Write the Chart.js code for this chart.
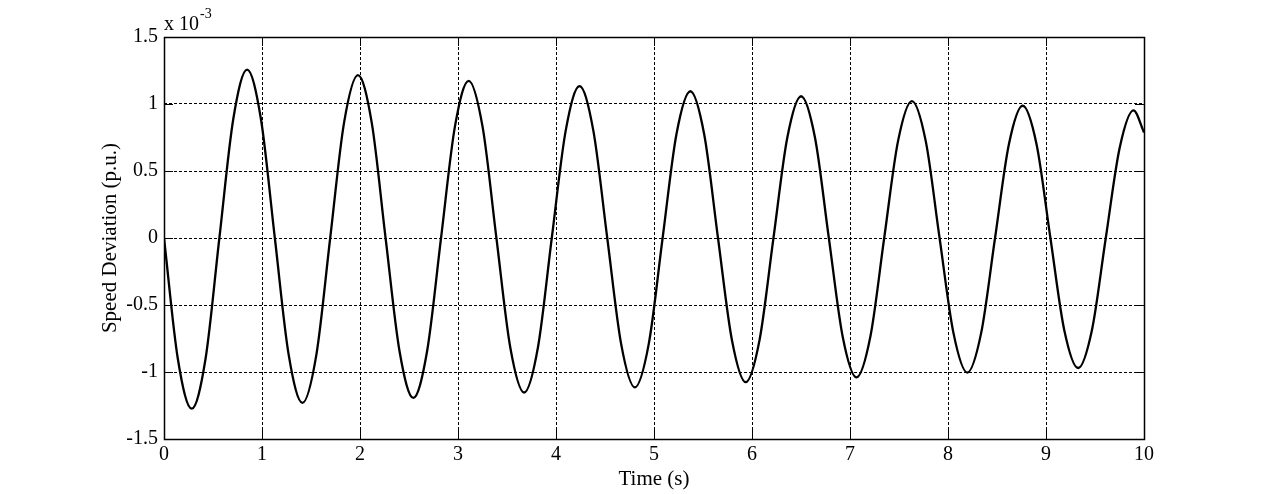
<!DOCTYPE html>
<html>
<head>
<meta charset="utf-8">
<script src="https://cdn.jsdelivr.net/npm/chart.js@4/dist/chart.umd.min.js"></script>
<style>
  html, body { margin: 0; padding: 0; background: #ffffff; }
  #wrap { width: 1264px; height: 494px; }
</style>
</head>
<body>
<div id="wrap"><canvas id="c" width="1264" height="494"></canvas></div>
<script>
// Time samples (s)
const timeValues = [0, 0.141, 0.283, 0.424, 0.565, 0.707, 0.848, 0.989, 1.131, 1.272,
  1.413, 1.555, 1.696, 1.837, 1.979, 2.120, 2.261, 2.403, 2.544, 2.685,
  2.827, 2.968, 3.109, 3.251, 3.392, 3.533, 3.675, 3.816, 3.957, 4.099,
  4.240, 4.381, 4.523, 4.664, 4.805, 4.947, 5.088, 5.229, 5.371, 5.512,
  5.653, 5.795, 5.936, 6.077, 6.219, 6.360, 6.501, 6.643, 6.784, 6.925,
  7.066, 7.208, 7.349, 7.490, 7.632, 7.773, 7.914, 8.056, 8.197, 8.338,
  8.480, 8.621, 8.762, 8.904, 9.045, 9.186, 9.328, 9.469, 9.610, 9.752,
  9.893, 10.0];
// Speed deviation (x 10^-3 p.u.)
const speedDeviation = [0, -0.901, -1.274, -0.901, 0, 0.888, 1.256, 0.888, 0, -0.870,
  -1.230, -0.870, 0, 0.859, 1.215, 0.859, 0, -0.843, -1.193, -0.843,
  0, 0.829, 1.173, 0.829, 0, -0.815, -1.153, -0.815, 0, 0.801,
  1.133, 0.801, 0, -0.788, -1.114, -0.788, 0, 0.774, 1.095, 0.774,
  0, -0.761, -1.076, -0.761, 0, 0.748, 1.058, 0.748, 0, -0.735,
  -1.040, -0.735, 0, 0.723, 1.022, 0.723, 0, -0.710, -1.004, -0.710,
  0, 0.698, 0.987, 0.698, 0, -0.686, -0.970, -0.686, 0, 0.673,
  0.952, 0.788];
const xTickLabels = ['0','1','2','3','4','5','6','7','8','9','10'];
const yTickLabels = ['-1.5','-1','-0.5','0','0.5','1','1.5'];
const yTicks = [-1.5, -1, -0.5, 0, 0.5, 1, 1.5];
const xTitle = 'Time (s)';
const yTitle = 'Speed Deviation (p.u.)';
const exponentBase = 'x 10';
const exponentPower = '-3';

const FONT = 'Liberation Serif';

const points = timeValues.map((t, i) => ({ x: t, y: speedDeviation[i] }));

const frameAndTicks = {
  id: 'frameAndTicks',
  afterDraw(chart) {
    const ctx = chart.ctx;
    const a = chart.chartArea;
    const xs = chart.scales.x, ys = chart.scales.y;
    ctx.save();
    ctx.strokeStyle = '#000';
    ctx.lineWidth = 1;
    ctx.setLineDash([]);
    const tl = 9;
    ctx.beginPath();
    xs.ticks.forEach(t => {
      const px = Math.round(xs.getPixelForValue(t.value)) + 0.5;
      ctx.moveTo(px, a.bottom); ctx.lineTo(px, a.bottom - tl);
      ctx.moveTo(px, a.top); ctx.lineTo(px, a.top + tl);
    });
    ys.ticks.forEach(t => {
      const py = Math.round(ys.getPixelForValue(t.value)) + 0.5;
      ctx.moveTo(a.left, py); ctx.lineTo(a.left + tl, py);
      ctx.moveTo(a.right, py); ctx.lineTo(a.right - tl, py);
    });
    ctx.stroke();
    ctx.lineWidth = 1.5;
    ctx.strokeRect(Math.round(a.left) + 0.5, Math.round(a.top) + 0.5,
      Math.round(a.right - a.left), Math.round(a.bottom - a.top));
    // exponent label
    ctx.fillStyle = '#000';
    ctx.textBaseline = 'alphabetic';
    ctx.textAlign = 'left';
    ctx.font = '20px "' + FONT + '"';
    ctx.fillText(exponentBase, a.left, 30);
    const w = ctx.measureText(exponentBase).width;
    ctx.font = '14px "' + FONT + '"';
    ctx.fillText(exponentPower, a.left + w + 1, 18);
    ctx.restore();
  }
};

new Chart(document.getElementById('c'), {
  type: 'line',
  data: {
    datasets: [{
      data: points,
      borderColor: '#000000',
      borderWidth: 2.3,
      pointRadius: 0,
      fill: false,
      cubicInterpolationMode: 'monotone'
    }]
  },
  options: {
    responsive: false,
    animation: false,
    devicePixelRatio: 1,
    layout: { padding: { top: 37, right: 120, left: 0, bottom: 0 } },
    plugins: { legend: { display: false }, tooltip: { enabled: false } },
    scales: {
      x: {
        type: 'linear',
        min: 0, max: 10,
        afterFit(s) { s.height = 55; },
        afterBuildTicks(s) { s.ticks = xTickLabels.map(v => ({ value: Number(v) })); },
        ticks: {
          color: '#000',
          padding: 4,
          maxRotation: 0,
          font: { family: FONT, size: 20 },
          callback: (v, i) => xTickLabels[i]
        },
        grid: {
          color: '#000',
          lineWidth: 1,
          drawTicks: false
        },
        border: { display: false, dash: [3, 2] },
        title: {
          display: true, text: xTitle, color: '#000',
          font: { family: FONT, size: 21 },
          padding: { top: 0, bottom: 2 }
        }
      },
      y: {
        type: 'linear',
        min: -1.5, max: 1.5,
        afterFit(s) { s.width = 164; },
        afterBuildTicks(s) { s.ticks = yTicks.map(v => ({ value: v })); },
        ticks: {
          color: '#000',
          padding: 6,
          font: { family: FONT, size: 20 },
          callback: (v, i) => yTickLabels[i]
        },
        grid: {
          color: '#000',
          lineWidth: 1,
          drawTicks: false
        },
        border: { display: false, dash: [3, 2] },
        title: {
          display: true, text: yTitle, color: '#000',
          font: { family: FONT, size: 21 },
          padding: { top: 98, bottom: 0 }
        }
      }
    }
  },
  plugins: [frameAndTicks]
});
</script>
</body>
</html>
